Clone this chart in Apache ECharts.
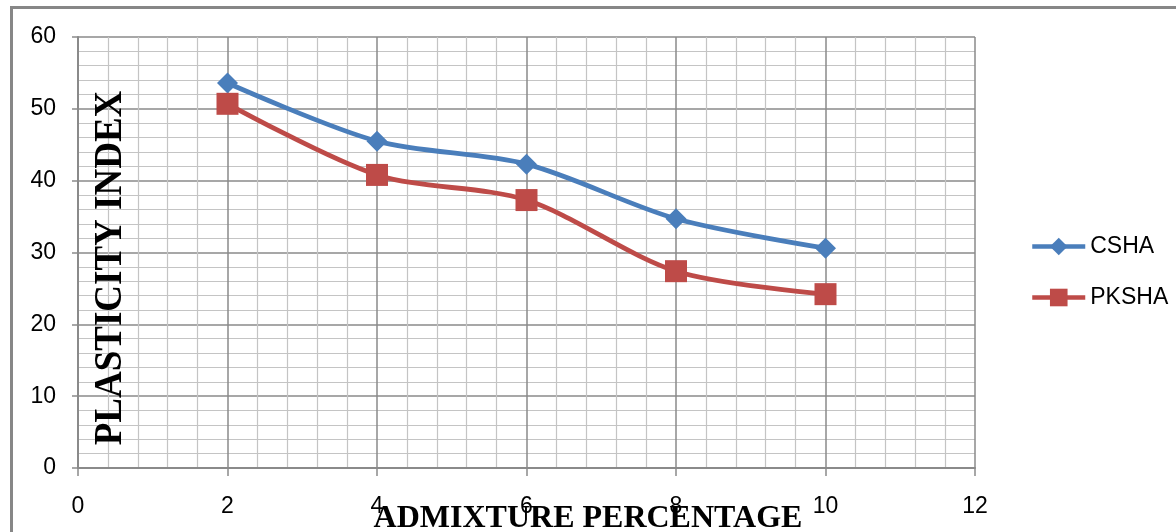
<!DOCTYPE html>
<html>
<head>
<meta charset="utf-8">
<style>
  html, body { margin: 0; padding: 0; background: #ffffff; }
  #chart { width: 1176px; height: 532px; }
</style>
<script src="https://cdn.jsdelivr.net/npm/echarts@6/dist/echarts.min.js"></script>
</head>
<body>
<div id="chart"></div>
<script>
// Admixture percentage (x) vs plasticity index (y)
const admixture = [2, 4, 6, 8, 10];
const cshaValues = [53.6, 45.5, 42.3, 34.7, 30.6];
const pkshaValues = [50.7, 40.8, 37.3, 27.4, 24.2];
const seriesNames = ['CSHA', 'PKSHA'];
const xAxisTitle = 'ADMIXTURE PERCENTAGE';
const yAxisTitle = 'PLASTICITY INDEX';

const pairs = (xs, ys) => xs.map((x, i) => [x, ys[i]]);

const tickFont = { fontFamily: '"Liberation Sans", Arial, sans-serif', fontSize: 23, color: '#000' };
const majorLine = { show: true, lineStyle: { color: '#8a8a8a', width: 1.5 } };
const minorLine = { show: true, lineStyle: { color: '#c4c4c4', width: 1.2 } };

const chart = echarts.init(document.getElementById('chart'), null, { renderer: 'canvas' });

chart.setOption({
  animation: false,
  backgroundColor: '#ffffff',
  grid: { left: 78, right: 201, top: 37, bottom: 64, containLabel: false },
  xAxis: {
    type: 'value', min: 0, max: 12, interval: 2,
    axisLine: { show: true, lineStyle: { color: '#8a8a8a', width: 2 } },
    axisTick: { show: true, length: 8, lineStyle: { color: '#8a8a8a', width: 1.5 } },
    axisLabel: Object.assign({ margin: 27 }, tickFont),
    splitLine: majorLine,
    minorTick: { show: false, splitNumber: 5 },
    minorSplitLine: minorLine
  },
  yAxis: {
    type: 'value', min: 0, max: 60, interval: 10,
    axisLine: { show: true, lineStyle: { color: '#8a8a8a', width: 2 } },
    axisTick: { show: true, length: 6, lineStyle: { color: '#8a8a8a', width: 1.5 } },
    axisLabel: Object.assign({ margin: 22 }, tickFont),
    splitLine: majorLine,
    minorTick: { show: false, splitNumber: 5 },
    minorSplitLine: minorLine
  },
  legend: {
    orient: 'vertical',
    left: 1030, top: 235, padding: 0,
    itemWidth: 53, itemHeight: 22, itemGap: 28,
    lineStyle: { width: 4.5 },
    textStyle: { fontFamily: '"Liberation Sans", Arial, sans-serif', fontSize: 23, color: '#000' },
    data: seriesNames
  },
  series: [
    {
      name: seriesNames[0], type: 'line', smooth: 0.3,
      data: pairs(admixture, cshaValues),
      symbol: 'diamond', symbolSize: 21,
      lineStyle: { color: '#4a7ebb', width: 4.8 },
      itemStyle: { color: '#4a7ebb' }, z: 3
    },
    {
      name: seriesNames[1], type: 'line', smooth: 0.3,
      data: pairs(admixture, pkshaValues),
      symbol: 'rect', symbolSize: 22,
      lineStyle: { color: '#be4b48', width: 4.8 },
      itemStyle: { color: '#be4b48' }, z: 3
    }
  ],
  graphic: [
    {
      type: 'rect', silent: true, z: 0,
      shape: { x: 11.5, y: 7.5, width: 1200, height: 600 },
      style: { fill: null, stroke: '#878787', lineWidth: 3 }
    },
    {
      type: 'text', silent: true, z: 10,
      x: 111, y: 268, rotation: Math.PI / 2, scaleY: 1.08,
      style: {
        text: yAxisTitle,
        font: 'bold 37px "Liberation Serif", "Times New Roman", serif',
        fill: '#000', align: 'center', verticalAlign: 'middle'
      }
    },
    {
      type: 'text', silent: true, z: 10,
      x: 588, y: 519,
      style: {
        text: xAxisTitle,
        font: 'bold 32px "Liberation Serif", "Times New Roman", serif',
        fill: '#000', align: 'center', verticalAlign: 'middle'
      }
    }
  ]
});
</script>
</body>
</html>
